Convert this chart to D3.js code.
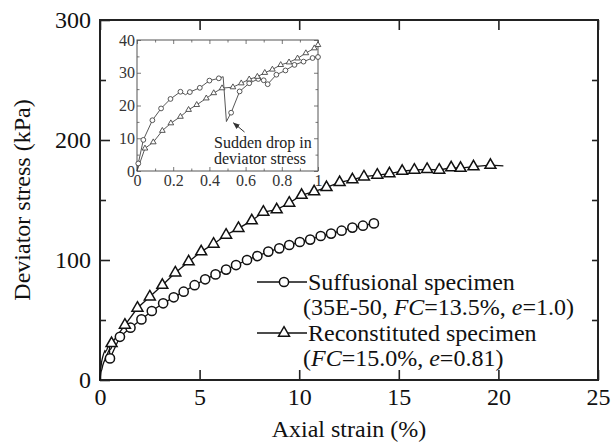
<!DOCTYPE html>
<html>
<head>
<meta charset="utf-8">
<script src="https://cdn.jsdelivr.net/npm/d3@7"></script>
<style>
  body { margin: 0; background: #fff; }
  svg { font-family: "Liberation Serif", "Times New Roman", serif; }
</style>
</head>
<body>
<div id="chart"></div>
<script>
// main chart: suffusional specimen (circles)
var supStrain = [0.5, 1.0, 1.53, 2.08, 2.6, 3.17, 3.7, 4.2, 4.75, 5.28, 5.8, 6.33, 6.83, 7.38, 7.9, 8.45, 9.0, 9.5, 10.03, 10.55, 11.08, 11.6, 12.13, 12.67, 13.2, 13.75]
var supStress = [18, 36, 43.6, 50.5, 57.5, 63.9, 68.9, 73.6, 79, 83.9, 88, 92, 95.8, 100, 103.3, 107, 109.7, 112.5, 115, 117, 120, 122, 124.4, 127, 128.6, 130.5]

// main chart: reconstituted specimen (triangles)
var recStrain = [0.58, 1.25, 1.88, 2.5, 3.13, 3.78, 4.45, 5.08, 5.7, 6.33, 6.95, 7.62, 8.2, 8.87, 9.5, 10.12, 10.75, 11.37, 12.03, 12.67, 13.25, 13.92, 14.53, 15.17, 15.78, 16.42, 17.03, 17.63, 18.1, 18.75, 19.6]
var recStress = [30.5, 45.8, 60, 69.4, 79, 89.4, 98.6, 107, 113.3, 120.8, 126.4, 132.8, 140, 142, 147.5, 154, 157, 160.5, 164.7, 167, 169.4, 170.8, 172, 174, 175, 175.6, 175, 177, 176.5, 177.8, 179]
var recEnd = [20.25, 178.5]

// inset (0-1 % strain)
var inSupStrain = [0, 0.007, 0.035, 0.085, 0.133, 0.185, 0.24, 0.268, 0.292, 0.347, 0.4, 0.452, 0.476, 0.494, 0.52, 0.567, 0.62, 0.67, 0.7, 0.722, 0.77, 0.82, 0.87, 0.92, 0.97, 1.0]
var inSupStress = [0, 2.3, 9.5, 15.5, 19.1, 22, 24.2, 23.3, 24.1, 25.4, 27.6, 28.3, 28.8, 15.1, 17.8, 24.3, 26.8, 28.1, 27.7, 26.5, 29.4, 30.7, 32.4, 33.4, 34.5, 34.8]
var inRecStrain = [0, 0.044, 0.09, 0.14, 0.187, 0.24, 0.285, 0.33, 0.383, 0.424, 0.47, 0.53, 0.576, 0.62, 0.665, 0.706, 0.748, 0.794, 0.84, 0.887, 0.933, 0.98, 1.0]
var inRecStress = [0, 6.9, 8.8, 12.3, 14.6, 16.6, 18.7, 20.2, 22.2, 23.8, 25.3, 25.6, 26.8, 28, 28.8, 30, 31, 32.4, 33.2, 34.4, 36, 37.5, 38.5]

var xTicks = [0, 5, 10, 15, 20, 25]
var yTicks = [0, 100, 200, 300]
var yMinor = [50, 150, 250]
var inXTicks = [0, 0.2, 0.4, 0.6, 0.8, 1]
var inXMinor = [0.1, 0.3, 0.5, 0.7, 0.9]
var inYTicks = [0, 10, 20, 30, 40]
var inYMinor = [5, 15, 25, 35]

var width = 615, height = 448
var mL = 100, mR = 598, mT = 20, mB = 380

var svg = d3.select("#chart").append("svg")
    .attr("width", width).attr("height", height)

var x = d3.scaleLinear().domain([0, 25]).range([mL, mR])
var y = d3.scaleLinear().domain([0, 300]).range([mB, mT])

var zip = (a, b) => a.map((v, i) => [v, b[i]])

// axes
svg.append("g").attr("transform", `translate(0,${mB})`)
    .call(d3.axisBottom(x).tickValues(xTicks).tickSize(-10).tickSizeOuter(0).tickPadding(8).tickFormat(d3.format("d")))
svg.append("g").attr("transform", `translate(0,${mT})`)
    .call(d3.axisTop(x).tickValues(xTicks).tickSize(-10).tickSizeOuter(0).tickFormat(""))
svg.append("g").attr("transform", `translate(${mL},0)`)
    .call(d3.axisLeft(y).tickValues(yTicks).tickSize(-10).tickSizeOuter(0).tickPadding(9).tickFormat(d3.format("d")))
svg.append("g").attr("transform", `translate(${mL},0)`)
    .call(d3.axisLeft(y).tickValues(yMinor).tickSize(-6).tickSizeOuter(0).tickFormat(""))
svg.append("g").attr("transform", `translate(${mR},0)`)
    .call(d3.axisRight(y).tickValues(d3.range(50, 300, 50)).tickSize(-6).tickSizeOuter(0).tickFormat(""))

svg.selectAll(".domain").remove()
svg.selectAll(".tick line").attr("stroke", "#222").attr("stroke-width", 1.6)
svg.selectAll(".tick text").attr("font-size", 24).attr("fill", "#111")
    .attr("font-family", "'Liberation Serif', 'Times New Roman', serif")

svg.append("rect")
    .attr("x", mL).attr("y", mT)
    .attr("width", mR - mL).attr("height", mB - mT)
    .attr("fill", "none").attr("stroke", "#222").attr("stroke-width", 2)

svg.append("text")
    .attr("x", (mL + mR) / 2).attr("y", 437)
    .attr("text-anchor", "middle").attr("font-size", 24).attr("fill", "#111")
    .text("Axial strain (%)")

svg.append("text")
    .attr("transform", `translate(30,${(mT + mB) / 2}) rotate(-90)`)
    .attr("text-anchor", "middle").attr("font-size", 24).attr("fill", "#111")
    .text("Deviator stress (kPa)")

// main curves
var line = d3.line().x(d => x(d[0])).y(d => y(d[1]))

var supLine = zip(inSupStrain, inSupStress).filter(d => d[0] < supStrain[0]).concat(zip(supStrain, supStress))
var recLine = zip(inRecStrain, inRecStress).filter(d => d[0] < recStrain[0]).concat(zip(recStrain, recStress), [recEnd])

svg.append("path").datum(supLine)
    .attr("d", line).attr("fill", "none").attr("stroke", "#111").attr("stroke-width", 1.3)
svg.append("path").datum(recLine)
    .attr("d", line).attr("fill", "none").attr("stroke", "#111").attr("stroke-width", 1.3)

var tri = d3.symbol().type(d3.symbolTriangle).size(52)

svg.append("g").selectAll("circle")
    .data(zip(supStrain, supStress))
    .enter().append("circle")
    .attr("cx", d => x(d[0])).attr("cy", d => y(d[1])).attr("r", 4.6)
    .attr("fill", "#fff").attr("stroke", "#111").attr("stroke-width", 1.5)

svg.append("g").selectAll("path")
    .data(zip(recStrain, recStress))
    .enter().append("path")
    .attr("d", tri)
    .attr("transform", d => `translate(${x(d[0])},${y(d[1])})`)
    .attr("fill", "#fff").attr("stroke", "#111").attr("stroke-width", 1.5)

// legend
var legend = svg.append("g").attr("font-size", 24).attr("fill", "#111")

legend.append("line").attr("x1", 257).attr("x2", 307).attr("y1", 282).attr("y2", 282)
    .attr("stroke", "#111").attr("stroke-width", 1.3)
legend.append("circle").attr("cx", 284).attr("cy", 282).attr("r", 4.6)
    .attr("fill", "#fff").attr("stroke", "#111").attr("stroke-width", 1.5)
legend.append("line").attr("x1", 257).attr("x2", 307).attr("y1", 333).attr("y2", 333)
    .attr("stroke", "#111").attr("stroke-width", 1.3)
legend.append("path").attr("d", tri).attr("transform", "translate(284,333)")
    .attr("fill", "#fff").attr("stroke", "#111").attr("stroke-width", 1.5)

legend.append("text").attr("x", 308).attr("y", 290).text("Suffusional specimen")
var t2 = legend.append("text").attr("x", 303).attr("y", 315)
t2.append("tspan").text("(35E-50, ")
t2.append("tspan").attr("font-style", "italic").text("FC")
t2.append("tspan").text("=13.5%, ")
t2.append("tspan").attr("font-style", "italic").text("e")
t2.append("tspan").text("=1.0)")
legend.append("text").attr("x", 308).attr("y", 341).text("Reconstituted specimen")
var t4 = legend.append("text").attr("x", 303).attr("y", 366)
t4.append("tspan").text("(")
t4.append("tspan").attr("font-style", "italic").text("FC")
t4.append("tspan").text("=15.0%, ")
t4.append("tspan").attr("font-style", "italic").text("e")
t4.append("tspan").text("=0.81)")

// inset
var iL = 137, iR = 318, iT = 40, iB = 171
var xi = d3.scaleLinear().domain([0, 1]).range([iL, iR])
var yi = d3.scaleLinear().domain([0, 40]).range([iB, iT])

var inset = svg.append("g")
inset.append("rect")
    .attr("x", iL).attr("y", iT).attr("width", iR - iL).attr("height", iB - iT)
    .attr("fill", "#fff")

inset.append("g").attr("transform", `translate(0,${iB})`)
    .call(d3.axisBottom(xi).tickValues(inXTicks).tickSize(-4).tickSizeOuter(0).tickPadding(3.5).tickFormat(d3.format("~g")))
inset.append("g").attr("transform", `translate(0,${iB})`)
    .call(d3.axisBottom(xi).tickValues(inXMinor).tickSize(-2.5).tickSizeOuter(0).tickFormat(""))
inset.append("g").attr("transform", `translate(0,${iT})`)
    .call(d3.axisTop(xi).tickValues(inXTicks).tickSize(-4).tickSizeOuter(0).tickFormat(""))
inset.append("g").attr("transform", `translate(0,${iT})`)
    .call(d3.axisTop(xi).tickValues(inXMinor).tickSize(-2.5).tickSizeOuter(0).tickFormat(""))
inset.append("g").attr("transform", `translate(${iL},0)`)
    .call(d3.axisLeft(yi).tickValues(inYTicks).tickSize(-4).tickSizeOuter(0).tickPadding(2).tickFormat(d3.format("d")))
inset.append("g").attr("transform", `translate(${iL},0)`)
    .call(d3.axisLeft(yi).tickValues(inYMinor).tickSize(-2.5).tickSizeOuter(0).tickFormat(""))
inset.append("g").attr("transform", `translate(${iR},0)`)
    .call(d3.axisRight(yi).tickValues(inYTicks).tickSize(-4).tickSizeOuter(0).tickFormat(""))
inset.append("g").attr("transform", `translate(${iR},0)`)
    .call(d3.axisRight(yi).tickValues(inYMinor).tickSize(-2.5).tickSizeOuter(0).tickFormat(""))

inset.selectAll(".domain").remove()
inset.selectAll(".tick line").attr("stroke", "#555").attr("stroke-width", 0.8)
inset.selectAll(".tick text").attr("font-size", 16).attr("fill", "#333")
    .attr("font-family", "'Liberation Serif', 'Times New Roman', serif")

inset.append("rect")
    .attr("x", iL).attr("y", iT).attr("width", iR - iL).attr("height", iB - iT)
    .attr("fill", "none").attr("stroke", "#555").attr("stroke-width", 1)

var lineIn = d3.line().x(d => xi(d[0])).y(d => yi(d[1]))

inset.append("path").datum(zip(inSupStrain, inSupStress))
    .attr("d", lineIn).attr("fill", "none").attr("stroke", "#444").attr("stroke-width", 0.9)
inset.append("path").datum(zip(inRecStrain, inRecStress))
    .attr("d", lineIn).attr("fill", "none").attr("stroke", "#444").attr("stroke-width", 0.9)

inset.append("g").selectAll("circle")
    .data(zip(inSupStrain, inSupStress).filter((d, i) => i > 0 && i !== 7 && i !== 12 && i !== 13))
    .enter().append("circle")
    .attr("cx", d => xi(d[0])).attr("cy", d => yi(d[1])).attr("r", 2.4)
    .attr("fill", "#fff").attr("stroke", "#444").attr("stroke-width", 0.9)

var triIn = d3.symbol().type(d3.symbolTriangle).size(14)
inset.append("g").selectAll("path")
    .data(zip(inRecStrain, inRecStress).filter((d, i) => i > 0))
    .enter().append("path")
    .attr("d", triIn)
    .attr("transform", d => `translate(${xi(d[0])},${yi(d[1])})`)
    .attr("fill", "#fff").attr("stroke", "#444").attr("stroke-width", 0.9)

// annotation
svg.append("defs").append("marker")
    .attr("id", "arrow").attr("viewBox", "0 0 10 10")
    .attr("refX", 9).attr("refY", 5)
    .attr("markerWidth", 7).attr("markerHeight", 7)
    .attr("orient", "auto")
    .append("path").attr("d", "M0,1L10,5L0,9Z").attr("fill", "#333")

inset.append("line")
    .attr("x1", xi(0.594)).attr("y1", yi(11.9))
    .attr("x2", xi(0.533)).attr("y2", yi(14.7))
    .attr("stroke", "#333").attr("stroke-width", 1)
    .attr("marker-end", "url(#arrow)")

inset.append("text").attr("x", 214).attr("y", 148)
    .attr("font-size", 16).attr("fill", "#222").text("Sudden drop in")
inset.append("text").attr("x", 214).attr("y", 164)
    .attr("font-size", 16).attr("fill", "#222").text("deviator stress")
</script>
</body>
</html>
